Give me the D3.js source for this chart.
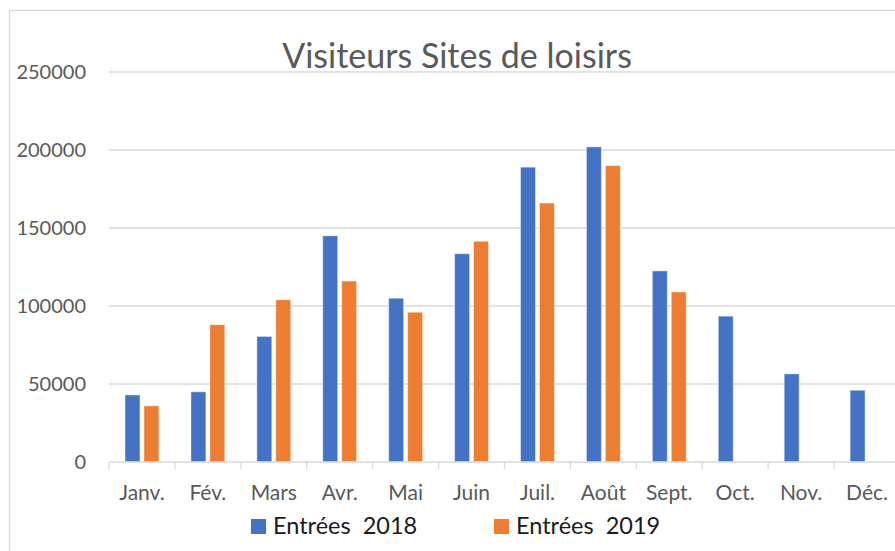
<html lang="fr">
<head>
<meta charset="utf-8">
<title>Visiteurs Sites de loisirs</title>
<style>
  body { margin: 0; background: #fff; }
  svg text { font-family: Lato, "Open Sans", sans-serif; }
  .grid line { stroke: #d9d9d9; stroke-width: 1.3; }
  .tick-lbl { fill: #595959; font-size: 20px; }
  .month-lbl { fill: #595959; font-size: 21px; }
  .legend text { fill: #1a1a1a; font-size: 23.5px; white-space: pre; }
</style>
<script src="https://d3js.org/d3.v7.min.js"></script>
</head>
<body>
<svg id="chart" width="895" height="551"></svg>
<script>
// data
var months = ["Janv.", "Fév.", "Mars", "Avr.", "Mai", "Juin", "Juil.", "Août", "Sept.", "Oct.", "Nov.", "Déc."];
var seriesNames = ["Entrées  2018", "Entrées  2019"];
var entrees2018 = [43000, 45000, 80500, 145000, 105000, 133500, 189000, 202000, 122500, 93500, 56500, 46000];
var entrees2019 = [36000, 88000, 104000, 116000, 96000, 141500, 166000, 190000, 109000, null, null, null];
var yTicks = [0, 50000, 100000, 150000, 200000, 250000];
var colors = ["#4472C4", "#ED7D31"];

var svg = d3.select("#chart");

// outer chart frame (runs past the right/bottom edge like the screenshot)
svg.append("rect")
  .attr("x", 9.5).attr("y", 10.5)
  .attr("width", 920).attr("height", 580)
  .attr("fill", "none")
  .attr("stroke", "#d9d9d9")
  .attr("stroke-width", 1.3);

var x0 = d3.scaleBand().domain(months).range([109, 900]);
var bw = x0.bandwidth();
var x1 = d3.scaleBand().domain(seriesNames)
  .range([bw * 0.243, bw * 0.757])
  .paddingInner(0.21);
var y = d3.scaleLinear().domain([0, 250000]).range([462, 72]);

// gridlines
svg.append("g").attr("class", "grid")
  .selectAll("line").data(yTicks.slice(1)).join("line")
  .attr("x1", 109).attr("x2", 900)
  .attr("y1", function(d) { return y(d); })
  .attr("y2", function(d) { return y(d); });

// y labels
svg.append("g").selectAll("text").data(yTicks).join("text")
  .attr("class", "tick-lbl")
  .attr("x", 86)
  .attr("y", function(d) { return y(d); })
  .attr("dy", "0.35em")
  .attr("text-anchor", "end")
  .text(function(d) { return d; });

// bars
var table = months.map(function(m, i) {
  return { month: m, vals: [entrees2018[i], entrees2019[i]] };
});

var groups = svg.append("g").selectAll("g").data(table).join("g")
  .attr("transform", function(d) { return "translate(" + x0(d.month) + ",0)"; });

groups.selectAll("rect")
  .data(function(d) {
    return d.vals.map(function(v, j) { return { s: seriesNames[j], v: v, j: j }; })
      .filter(function(e) { return e.v != null; });
  })
  .join("rect")
  .attr("x", function(d) { return x1(d.s); })
  .attr("width", x1.bandwidth())
  .attr("y", function(d) { return y(d.v); })
  .attr("height", function(d) { return y(0) - y(d.v); })
  .attr("fill", function(d) { return colors[d.j]; })
  .attr("stroke", "#ffffff")
  .attr("stroke-opacity", 0.45)
  .attr("stroke-width", 1);

// x axis line + separators
var axisG = svg.append("g")
  .attr("transform", "translate(0," + y(0) + ")");
axisG.append("line")
  .attr("x1", 109).attr("x2", 900)
  .attr("stroke", "#d9d9d9").attr("stroke-width", 1.3);
axisG.selectAll(".sep").data(months.concat(["end"])).join("line")
  .attr("class", "sep")
  .attr("x1", function(d, i) { return 109 + i * bw; })
  .attr("x2", function(d, i) { return 109 + i * bw; })
  .attr("y1", 0).attr("y2", 7)
  .attr("stroke", "#d9d9d9").attr("stroke-width", 1.3);

svg.append("g").selectAll("text").data(months).join("text")
  .attr("class", "month-lbl")
  .attr("x", function(d) { return x0(d) + bw / 2; })
  .attr("y", 500)
  .attr("text-anchor", "middle")
  .text(function(d) { return d; });

// title
svg.append("text")
  .attr("x", 457)
  .attr("y", 68)
  .attr("text-anchor", "middle")
  .style("font-size", "34px")
  .style("fill", "#595959")
  .text("Visiteurs Sites de loisirs");

// legend
var legX = [251, 494];
var leg = svg.append("g").attr("class", "legend")
  .selectAll("g").data(seriesNames).join("g")
  .attr("transform", function(d, i) { return "translate(" + legX[i] + ",519)"; });
leg.append("rect")
  .attr("width", 15).attr("height", 15)
  .attr("fill", function(d, i) { return colors[i]; });
leg.append("text")
  .attr("x", 22).attr("y", 15)
  .attr("xml:space", "preserve")
  .text(function(d) { return d; });
</script>
</body>
</html>
